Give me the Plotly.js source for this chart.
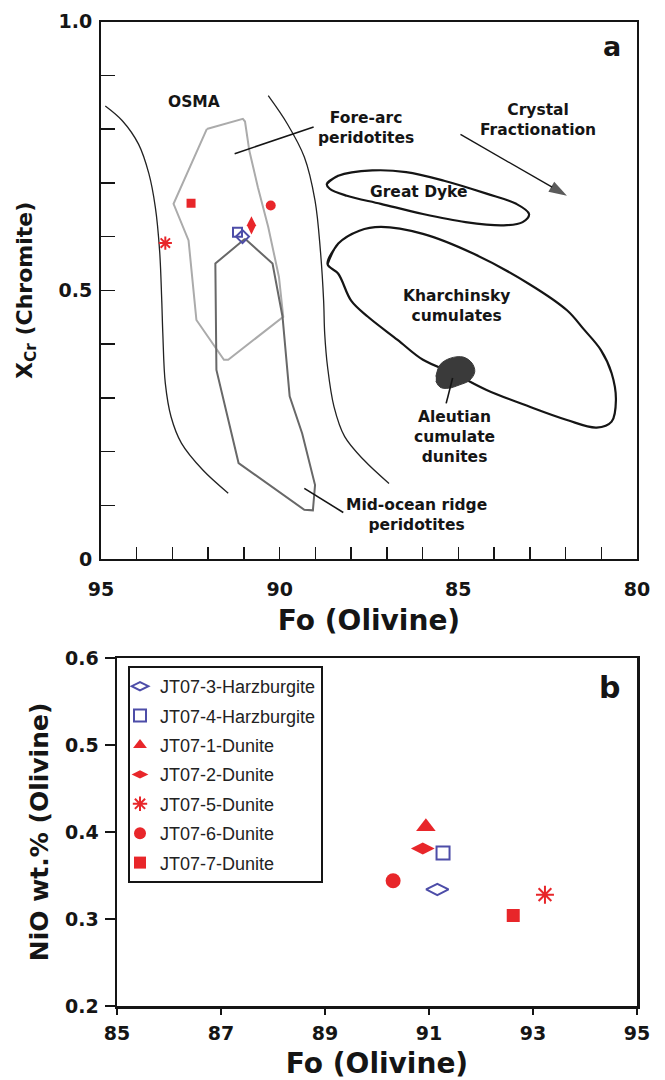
<!DOCTYPE html>
<html><head><meta charset="utf-8">
<script src="https://cdn.plot.ly/plotly-3.0.1.min.js"></script>
<style>html,body{margin:0;padding:0;background:#fff}</style>
</head><body><div id="chart" style="width:665px;height:1080px"></div>
<script>
// ---------- samples ----------
const sampleNames = ['JT07-3-Harzburgite','JT07-4-Harzburgite','JT07-1-Dunite','JT07-2-Dunite','JT07-5-Dunite','JT07-6-Dunite','JT07-7-Dunite'];
// panel a : Fo (olivine) vs XCr (chromite)
const foA  = [91.04, 91.18, null, 90.79, 93.20, 90.25, 92.48];
const xcrA = [0.600, 0.608, null, 0.621, 0.588, 0.658, 0.662];
// panel b : Fo (olivine) vs NiO wt.% (olivine)
const foB  = [91.16, 91.27, 90.94, 90.88, 93.23, 90.31, 92.62];
const nioB = [0.334, 0.376, 0.406, 0.381, 0.328, 0.344, 0.304];

// ---------- panel a fields ----------
const osmaLeftFo  = [94.88, 94.41, 93.95, 93.66, 93.48, 93.36, 93.30, 93.27, 93.20, 93.04, 92.75, 92.15, 91.44];
const osmaLeftCr  = [0.843, 0.816, 0.772, 0.717, 0.655, 0.574, 0.481, 0.420, 0.327, 0.265, 0.216, 0.166, 0.123];
const osmaRightFo = [90.32, 89.78, 89.31, 89.01, 88.86, 88.77, 88.74, 88.66, 88.48, 88.18, 87.65, 86.94];
const osmaRightCr = [0.862, 0.809, 0.748, 0.667, 0.574, 0.481, 0.420, 0.358, 0.284, 0.228, 0.185, 0.141];
const foreArcFo = [92.04, 91.03, 90.97, 90.85, 90.61, 90.32, 90.02, 89.90, 91.44, 91.56, 92.33, 92.45, 92.55, 92.97, 92.04];
const foreArcCr = [0.800, 0.819, 0.814, 0.760, 0.692, 0.618, 0.525, 0.451, 0.371, 0.371, 0.445, 0.520, 0.593, 0.661, 0.800];
const morFo = [90.97, 91.80, 91.77, 91.15, 89.31, 89.07, 89.01, 89.37, 89.72, 89.92, 90.20, 90.97];
const morCr = [0.596, 0.550, 0.352, 0.179, 0.092, 0.091, 0.138, 0.234, 0.303, 0.451, 0.550, 0.596];
const greatDykeFo = [88.68, 88.36, 87.41, 86.46, 85.40, 84.21, 83.38, 83.02, 83.20, 83.73, 84.80, 85.99, 87.17, 88.12, 88.60, 88.68, 88.36];
const greatDykeCr = [0.698, 0.713, 0.723, 0.720, 0.704, 0.680, 0.661, 0.642, 0.627, 0.621, 0.627, 0.642, 0.661, 0.676, 0.689, 0.698, 0.713];
const kharFo = [88.66, 88.36, 87.77, 87.17, 85.99, 84.57, 83.02, 81.96, 81.48, 81.01, 80.71, 80.59, 80.71, 81.13, 81.96, 83.02, 84.21, 85.10, 85.99, 86.70, 87.53, 88.00, 88.36, 88.66, 88.36];
const kharCr = [0.549, 0.587, 0.611, 0.618, 0.605, 0.568, 0.512, 0.463, 0.427, 0.389, 0.346, 0.296, 0.256, 0.245, 0.259, 0.284, 0.315, 0.345, 0.371, 0.408, 0.451, 0.481, 0.531, 0.549, 0.587];
const aleutFo = [85.63, 85.51, 85.22, 84.86, 84.62, 84.54, 84.68, 84.98, 85.28, 85.51, 85.63];
const aleutCr = [0.340, 0.362, 0.374, 0.376, 0.365, 0.349, 0.333, 0.324, 0.318, 0.320, 0.331];
const foreArcLeaderFo = [91.26, 89.05], foreArcLeaderCr = [0.754, 0.804];
const morLeaderFo = [89.31, 88.22],     morLeaderCr = [0.132, 0.087];
const aleutLeaderFo = [85.16, 85.34],   aleutLeaderCr = [0.337, 0.290];
const fracArrowFo = [84.94, 81.96],     fracArrowCr = [0.790, 0.676];

// ---------- ticks ----------
const foTicksA = [95, 90, 85, 80];
const xcrTicks = [0, 0.5, 1.0];
const xcrTickText = ['0', '0.5', '1.0'];
const foTicksB = [85, 87, 89, 91, 93, 95];
const nioTicks = [0.2, 0.3, 0.4, 0.5, 0.6];
const nioTickText = ['0.2', '0.3', '0.4', '0.5', '0.6'];

// ---------- styles ----------
const RED = '#e8262a', BLUE = '#4d4da8', INK = '#151515';
const sampleColors = [BLUE, BLUE, RED, RED, RED, RED, RED];
const symA = ['diamond-open', 'square-open', 'triangle-up', 'diamond-tall', 'asterisk-open', 'circle', 'square'];
const sizeA = [10, 9, 10, 13, 11, 10, 9];
const symB = ['diamond-wide-open', 'square-open', 'triangle-up', 'diamond-wide', 'asterisk-open', 'circle', 'square'];
const sizeB = [16, 13, 17, 17, 15, 15, 13];
const BOLD = 'DejaVu Sans';

const traces = [];
function line(x, y, color, width, shape, extra) {
  return Object.assign({x, y, xaxis:'x', yaxis:'y', mode:'lines', showlegend:false, hoverinfo:'skip',
    line:{color, width, shape: shape || 'linear'}}, extra || {});
}
traces.push(line(osmaLeftFo, osmaLeftCr, '#222', 1.3, 'spline'));
traces.push(line(osmaRightFo, osmaRightCr, '#222', 1.3, 'spline'));
traces.push(line(foreArcFo, foreArcCr, '#ababab', 2));
traces.push(line(morFo, morCr, '#686868', 2));
traces.push(line(greatDykeFo, greatDykeCr, INK, 2.2, 'spline'));
traces.push(line(kharFo, kharCr, INK, 2.2, 'spline'));
traces.push(line(aleutFo, aleutCr, '#3a3a3a', 1, 'spline', {fill:'toself', fillcolor:'#3a3a3a'}));
traces.push(line(foreArcLeaderFo, foreArcLeaderCr, INK, 1.6));
traces.push(line(morLeaderFo, morLeaderCr, INK, 1.6));
traces.push(line(aleutLeaderFo, aleutLeaderCr, INK, 1.6));
// crystal fractionation arrow
traces.push(line(fracArrowFo, fracArrowCr, INK, 1.4, 'linear',
  {mode:'lines+markers', marker:{symbol:'arrow', angleref:'previous', size:[0, 19], color:INK, line:{width:0}}}));

sampleNames.forEach((name, i) => {
  const open = symA[i].indexOf('open') >= 0;
  if (foA[i] !== null) {
    traces.push({x:[foA[i]], y:[xcrA[i]], xaxis:'x', yaxis:'y', mode:'markers', name, legendgroup:name,
      showlegend:false,
      marker:{symbol:symA[i], size:sizeA[i], color:sampleColors[i], line:{color:sampleColors[i], width: open ? 2 : 0}}});
  }
  traces.push({x:[foB[i]], y:[nioB[i]], xaxis:'x2', yaxis:'y2', mode:'markers', name, legendgroup:name,
    marker:{symbol:symB[i], size:sizeB[i], color:sampleColors[i], line:{color:sampleColors[i], width: open ? 2 : 0}}});
});

const tf = (s) => ({family:BOLD, size:s, weight:700, color:INK});
const ann = (text, x, y) => ({text, x, y, xref:'x', yref:'y', showarrow:false, font:tf(15.5), align:'center'});

const layout = {
  width:665, height:1080, paper_bgcolor:'#fff', plot_bgcolor:'#fff',
  margin:{l:0, r:0, t:0, b:0, autoexpand:false},
  showlegend:true,
  xaxis:{domain:[101/665, 637/665], anchor:'y', range:[95, 80], tickmode:'array', tickvals:foTicksA,
    ticks:'inside', ticklen:12, tickwidth:1.5, tickcolor:INK,
    minor:{tickmode:'linear', tick0:80, dtick:1, ticks:'inside', ticklen:12, tickwidth:1.5, tickcolor:INK},
    showline:true, linecolor:INK, linewidth:2, mirror:true, showgrid:false, zeroline:false,
    tickfont:tf(19), ticklabelstandoff:12,
    title:{text:'Fo (Olivine)', font:tf(28), standoff:11}},
  yaxis:{domain:[520.7/1080, 1058.5/1080], anchor:'x', range:[0, 1], tickmode:'array', tickvals:xcrTicks, ticktext:xcrTickText,
    ticks:'inside', ticklen:14, tickwidth:1.5, tickcolor:INK,
    minor:{tickmode:'linear', tick0:0, dtick:0.1, ticks:'inside', ticklen:14, tickwidth:1.5, tickcolor:INK},
    showline:true, linecolor:INK, linewidth:2, mirror:true, showgrid:false, zeroline:false,
    tickfont:tf(19), ticklabelstandoff:3,
    title:{text:'X<sub>Cr</sub> (Chromite)', font:tf(22), standoff:20}},
  xaxis2:{domain:[117/665, 637/665], anchor:'y2', range:[85, 95], tickmode:'array', tickvals:foTicksB,
    ticks:'outside', ticklen:6, tickwidth:2, tickcolor:INK,
    showline:true, linecolor:INK, linewidth:2.5, mirror:true, showgrid:false, zeroline:false,
    tickfont:tf(19), ticklabelstandoff:3, title:{text:'Fo (Olivine)', font:tf(28), standoff:17}},
  yaxis2:{domain:[74/1080, 422/1080], anchor:'x2', range:[0.2, 0.6], tickmode:'array', tickvals:nioTicks, ticktext:nioTickText,
    ticks:'outside', ticklen:10, tickwidth:2, tickcolor:INK,
    showline:true, linecolor:INK, linewidth:2.5, mirror:true, showgrid:false, zeroline:false,
    tickfont:tf(19), ticklabelstandoff:2, title:{text:'NiO wt.% (Olivine)', font:tf(25), standoff:10}},
  xaxis3:{overlaying:'x2', anchor:'y2', range:[85, 95], tickmode:'array', tickvals:foTicksB,
    ticks:'inside', ticklen:6, tickwidth:2, tickcolor:INK, showticklabels:false, showline:false, showgrid:false, zeroline:false},
  yaxis3:{overlaying:'y2', anchor:'x2', range:[0.2, 0.6], tickmode:'array', tickvals:nioTicks,
    ticks:'inside', ticklen:6, tickwidth:2, tickcolor:INK, showticklabels:false, showline:false, showgrid:false, zeroline:false},
  legend:{x:128/665, y:1-666/1080, xanchor:'left', yanchor:'top', bgcolor:'#fff', bordercolor:INK, borderwidth:2,
    font:{family:'Liberation Sans, Arial, sans-serif', size:18, color:'#222'},
    traceorder:'grouped', tracegroupgap:3, itemsizing:'constant', itemwidth:30, indentation:-10},
  annotations:[
    ann('OSMA', 92.39, 0.850),
    ann('Fore-arc<br>peridotites', 87.59, 0.802),
    ann('Crystal<br>Fractionation', 82.76, 0.817),
    ann('Great Dyke', 86.11, 0.683),
    ann('Kharchinsky<br>cumulates', 85.04, 0.471),
    ann('Aleutian<br>cumulate<br>dunites', 85.10, 0.228),
    ann('Mid-ocean ridge<br>peridotites', 86.17, 0.0825),
    {text:'a', x:612/665, y:1-47/1080, xref:'paper', yref:'paper', xanchor:'center', yanchor:'middle', showarrow:false, font:tf(27)},
    {text:'b', x:609/665, y:1-687/1080, xref:'paper', yref:'paper', xanchor:'center', yanchor:'middle', showarrow:false, font:tf(30)}
  ]
};

Plotly.newPlot('chart', traces, layout, {displayModeBar:false, staticPlot:true});
</script></body></html>
